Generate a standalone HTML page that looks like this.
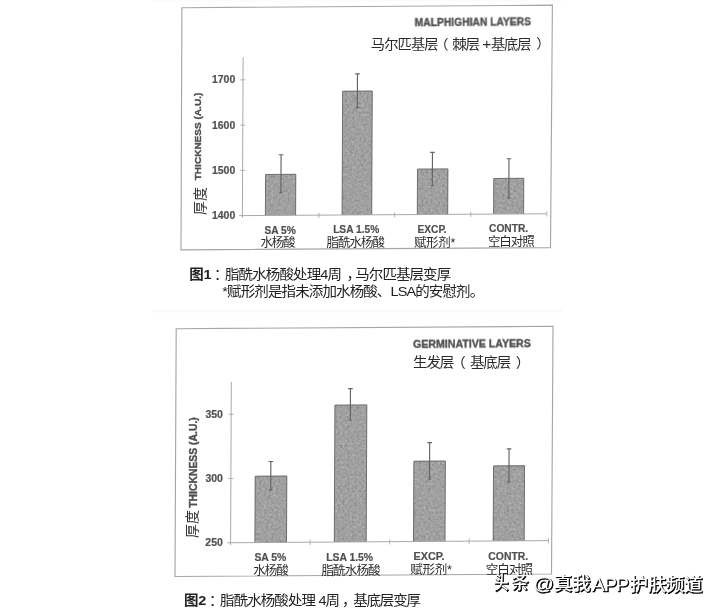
<!DOCTYPE html>
<html lang="zh"><head><meta charset="utf-8"><title>图1 图2</title>
<style>
html,body{margin:0;padding:0;background:#fff}
body{width:720px;height:610px;overflow:hidden;position:relative;font-family:"Liberation Sans",sans-serif}
svg{position:absolute;left:0;top:0;display:block}
</style></head><body>
<svg width="720" height="610" viewBox="0 0 720 610">
<defs>
<filter id="nz" x="0" y="0" width="100%" height="100%" color-interpolation-filters="sRGB"><feTurbulence type="fractalNoise" baseFrequency="0.42" numOctaves="2" seed="7" result="n"/><feColorMatrix in="n" type="matrix" values="0.34 0.33 0.33 0 0  0.34 0.33 0.33 0 0  0.34 0.33 0.33 0 0  0 0 0 0 1" result="g"/><feComposite in="SourceGraphic" in2="g" operator="arithmetic" k1="0" k2="1" k3="0.42" k4="-0.21" result="m"/><feComposite in="m" in2="SourceGraphic" operator="in"/></filter>
<filter id="soft" x="-2%" y="-2%" width="104%" height="104%"><feGaussianBlur stdDeviation="0.35"/></filter>
<filter id="soft2" x="-2%" y="-2%" width="104%" height="104%"><feGaussianBlur stdDeviation="0.3"/></filter>
<filter id="ws" x="-5%" y="-20%" width="110%" height="140%"><feGaussianBlur stdDeviation="0.45"/></filter>
</defs>
<rect width="720" height="610" fill="#fff"/>
<rect x="152" y="309.4" width="410" height="3" fill="#fafafa"/><rect x="152" y="0" width="410" height="1.6" fill="#fbfbfb"/>
<polygon points="181.90,7.70 552.40,5.20 550.50,247.70 181.00,249.80" fill="none" stroke="#a6a6a6" stroke-width="1.15"/><g filter="url(#soft2)"><path d="M265.40 215.46L265.59 174.49L295.79 174.31L295.60 215.28Z" fill="#a0a0a0" filter="url(#nz)"/><path d="M265.40 215.46L265.59 174.49L295.79 174.31L295.60 215.28" fill="none" stroke="#6e6e6e" stroke-width="1"/><path d="M342.10 215.00L342.66 91.19L372.26 91.01L371.70 214.82Z" fill="#a0a0a0" filter="url(#nz)"/><path d="M342.10 215.00L342.66 91.19L372.26 91.01L371.70 214.82" fill="none" stroke="#6e6e6e" stroke-width="1"/><path d="M417.30 214.55L417.51 169.09L447.91 168.91L447.70 214.37Z" fill="#a0a0a0" filter="url(#nz)"/><path d="M417.30 214.55L417.51 169.09L447.91 168.91L447.70 214.37" fill="none" stroke="#6e6e6e" stroke-width="1"/><path d="M493.60 214.09L493.77 178.49L523.77 178.31L523.60 213.91Z" fill="#a0a0a0" filter="url(#nz)"/><path d="M493.60 214.09L493.77 178.49L523.77 178.31L523.60 213.91" fill="none" stroke="#6e6e6e" stroke-width="1"/><path d="M243.11 57.20L242.39 217.80M239.20 215.62L547.00 213.77" fill="none" stroke="#a4a4a4" stroke-width="0.95"/><path d="M240.31 79.80L245.51 79.80M240.11 125.10L245.31 125.10M239.90 170.40L245.10 170.40M318.90 212.64L318.90 217.94M394.70 212.19L394.70 217.49M470.80 211.73L470.80 217.03M546.80 211.27L546.80 216.57" fill="none" stroke="#a4a4a4" stroke-width="0.8"/><path d="M281.09 154.70L280.91 192.50M278.79 154.70h4.6M279.41 192.50h3M357.48 73.90L357.32 107.60M355.18 73.90h4.6M355.82 107.60h3M432.47 152.30L432.33 185.60M430.17 152.30h4.6M430.83 185.60h3M508.99 158.70L508.81 198.10M506.69 158.70h4.6M507.31 198.10h3" fill="none" stroke="#636363" stroke-width="1.15"/></g><g font-family="Liberation Sans, sans-serif" font-weight="bold" filter="url(#soft)" stroke="#505050" stroke-width="0.2"><text x="212.07" y="83.35" font-size="10.4" fill="#505050">1700</text><text x="212.07" y="128.65" font-size="10.4" fill="#505050">1600</text><text x="212.07" y="174.15" font-size="10.4" fill="#505050">1500</text><text x="212.07" y="218.95" font-size="10.4" fill="#505050">1400</text><text font-size="10.3" fill="#505050" stroke-width="0.38" transform="translate(414.70 26.00) rotate(-0.45) scale(1 0.98)">MALPHIGHIAN LAYERS</text><text font-size="10.05" fill="#505050" stroke-width="0.38" transform="translate(201.10 180.29) rotate(-90) scale(1 0.98)">THICKNESS (A.U.)</text><text x="264.46" y="233.60" font-size="10.2" fill="#505050">SA 5%</text><text x="333.15" y="233.20" font-size="10.2" fill="#505050">LSA 1.5%</text><text x="417.45" y="232.80" font-size="10.2" fill="#505050">EXCP.</text><text x="489.04" y="232.20" font-size="10.2" fill="#505050">CONTR.</text></g><g filter="url(#soft)" font-family="'Liberation Sans','Noto Sans CJK SC',sans-serif"><text fill="#2c2c2c" font-size="14.3" textLength="67.8" transform="translate(370.78 49.20) scale(1 0.937)">马尔匹基层</text><text fill="#2c2c2c" font-size="14.3" transform="translate(434.26 48.90) scale(1 0.937)">（</text><text fill="#2c2c2c" font-size="14.6" textLength="28" transform="translate(452.18 48.70) scale(1 0.918)">棘层</text><text fill="#2c2c2c" font-size="15.5" transform="translate(482.31 48.90) scale(1 0.903)">+</text><text fill="#2c2c2c" font-size="14.3" textLength="40.7" transform="translate(490.89 48.50) scale(1 0.937)">基底层</text><text fill="#2c2c2c" font-size="14.3" transform="translate(536.24 48.30) scale(1 0.937)">）</text><text fill="#2c2c2c" font-size="14" textLength="28" transform="translate(204.70 214.40) rotate(-90) translate(-0.48 0) scale(1 0.957)">厚度</text><text fill="#2c2c2c" font-size="12.5" textLength="35.1" transform="translate(260.51 247.10) scale(1 0.992)">水杨酸</text><text fill="#2c2c2c" font-size="12.5" textLength="58.5" transform="translate(326.46 246.80) scale(1 0.992)">脂酰水杨酸</text><text fill="#2c2c2c" font-size="12.5" textLength="41.4" transform="translate(413.92 246.50) scale(1 0.992)">赋形剂*</text><text fill="#2c2c2c" font-size="12.5" textLength="46.8" transform="translate(487.95 246.20) scale(1 0.992)">空白对照</text><text fill="#222" font-weight="bold" font-size="14.5" textLength="22.3" transform="translate(189.16 279.20) scale(1 0.938)">图1</text><text fill="#202020" font-size="14.5" transform="translate(213.98 279.20) scale(1 0.938)">：</text><text fill="#202020" font-size="14.5" textLength="116.9" transform="translate(225.01 279.20) scale(1 0.938)">脂酰水杨酸处理4周</text><text fill="#202020" font-size="14.5" transform="translate(346.54 279.20) scale(1 0.938)">，</text><text fill="#202020" font-size="14.5" textLength="95.9" transform="translate(355.27 279.20) scale(1 0.938)">马尔匹基层变厚</text><text fill="#202020" font-size="14.5" textLength="261.8" transform="translate(222.36 296.40) scale(1 0.938)">*赋形剂是指未添加水杨酸、LSA的安慰剂。</text></g><polygon points="176.20,328.70 553.00,326.30 551.50,574.00 175.00,576.50" fill="none" stroke="#a6a6a6" stroke-width="1.15"/><g filter="url(#soft2)"><path d="M254.90 542.59L255.20 476.21L286.80 475.99L286.50 542.38Z" fill="#a0a0a0" filter="url(#nz)"/><path d="M254.90 542.59L255.20 476.21L286.80 475.99L286.50 542.38" fill="none" stroke="#6e6e6e" stroke-width="1"/><path d="M334.30 542.06L334.91 405.11L366.81 404.89L366.20 541.84Z" fill="#a0a0a0" filter="url(#nz)"/><path d="M334.30 542.06L334.91 405.11L366.81 404.89L366.20 541.84" fill="none" stroke="#6e6e6e" stroke-width="1"/><path d="M413.50 541.52L413.86 461.21L445.36 460.99L445.00 541.31Z" fill="#a0a0a0" filter="url(#nz)"/><path d="M413.50 541.52L413.86 461.21L445.36 460.99L445.00 541.31" fill="none" stroke="#6e6e6e" stroke-width="1"/><path d="M493.20 540.99L493.54 465.90L524.54 465.70L524.20 540.78Z" fill="#a0a0a0" filter="url(#nz)"/><path d="M493.20 540.99L493.54 465.90L524.54 465.70L524.20 540.78" fill="none" stroke="#6e6e6e" stroke-width="1"/><path d="M231.31 381.80L230.59 544.95M227.40 542.77L548.60 540.62" fill="none" stroke="#a4a4a4" stroke-width="0.95"/><path d="M228.47 414.30L233.67 414.30M228.18 478.50L233.38 478.50M310.10 539.72L310.10 545.02M389.70 539.18L389.70 544.48M469.20 538.65L469.20 543.95M548.50 538.12L548.50 543.42" fill="none" stroke="#a4a4a4" stroke-width="0.8"/><path d="M270.86 461.50L270.74 489.80M268.56 461.50h4.6M269.24 489.80h3M350.47 388.60L350.33 420.20M348.17 388.60h4.6M348.83 420.20h3M429.68 442.60L429.52 479.20M427.38 442.60h4.6M428.02 479.20h3M509.07 448.80L508.93 482.10M506.77 448.80h4.6M507.43 482.10h3" fill="none" stroke="#636363" stroke-width="1.15"/></g><g font-family="Liberation Sans, sans-serif" font-weight="bold" filter="url(#soft)" stroke="#505050" stroke-width="0.2"><text x="205.44" y="418.00" font-size="10.5" fill="#505050">350</text><text x="205.44" y="482.00" font-size="10.5" fill="#505050">300</text><text x="205.37" y="546.00" font-size="10.5" fill="#505050">250</text><text font-size="10.6" fill="#505050" stroke-width="0.38" transform="translate(413.11 347.60) rotate(-0.38) scale(1 0.97)">GERMINATIVE LAYERS</text><text font-size="10.4" fill="#505050" stroke-width="0.38" transform="translate(197.10 507.80) rotate(-90) scale(1 0.98)">THICKNESS (A.U.)</text><text x="254.40" y="561.00" font-size="10.4" fill="#505050">SA 5%</text><text x="326.14" y="560.60" font-size="10.4" fill="#505050">LSA 1.5%</text><text x="413.51" y="560.10" font-size="10.8" fill="#505050">EXCP.</text><text x="488.31" y="559.60" font-size="10.4" fill="#505050">CONTR.</text></g><g filter="url(#soft)" font-family="'Liberation Sans','Noto Sans CJK SC',sans-serif"><text fill="#2c2c2c" font-size="14.5" textLength="41.3" transform="translate(413.02 367.40) scale(1 0.938)">生发层</text><text fill="#2c2c2c" font-size="14.5" transform="translate(451.22 367.20) scale(1 0.938)">（</text><text fill="#2c2c2c" font-size="14.5" textLength="41.3" transform="translate(469.88 367.10) scale(1 0.938)">基底层</text><text fill="#2c2c2c" font-size="14.5" transform="translate(515.83 366.90) scale(1 0.938)">）</text><text fill="#2c2c2c" font-size="14" textLength="28" transform="translate(196.60 537.60) rotate(-90) translate(-0.48 0) scale(1 0.986)">厚度</text><text fill="#2c2c2c" font-size="12.6" textLength="35.5" transform="translate(253.31 575.30) scale(1 0.984)">水杨酸</text><text fill="#2c2c2c" font-size="12.6" textLength="59.2" transform="translate(321.46 574.90) scale(1 0.984)">脂酰水杨酸</text><text fill="#2c2c2c" font-size="12.6" textLength="41.6" transform="translate(410.22 574.40) scale(1 0.984)">赋形剂*</text><text fill="#2c2c2c" font-size="12.6" textLength="47.4" transform="translate(485.74 574.00) scale(1 0.984)">空白对照</text><text fill="#222" font-weight="bold" font-size="14.5" textLength="22.3" transform="translate(183.96 604.80) scale(1 0.938)">图2</text><text fill="#202020" font-size="14.5" transform="translate(208.98 604.80) scale(1 0.938)">：</text><text fill="#202020" font-size="14.5" textLength="95.9" transform="translate(220.11 604.80) scale(1 0.938)">脂酰水杨酸处理</text><text fill="#202020" font-size="14.5" transform="translate(318.61 604.80) scale(1 0.938)">4</text><text fill="#202020" font-size="14.5" transform="translate(325.52 604.80) scale(1 0.938)">周</text><text fill="#202020" font-size="14.5" transform="translate(342.04 604.80) scale(1 0.938)">，</text><text fill="#202020" font-size="14.5" textLength="67.7" transform="translate(353.28 604.80) scale(1 0.938)">基底层变厚</text></g><g filter="url(#ws)"><g stroke="#000" stroke-width="0.68" stroke-linejoin="round" fill="#000" font-family="'Liberation Sans','Noto Sans CJK SC',sans-serif" font-weight="500"><text font-size="14.6" transform="translate(494.80 590.30) scale(1 1.219)">头</text><text font-size="17.6" transform="translate(512.04 590.30) scale(1 1.011)">条</text><text font-size="20.3" transform="translate(534.36 590.60) scale(1 0.926)">@</text><text font-size="18.2" textLength="36.4" transform="translate(554.94 591.10) scale(1 0.978)">真我</text><text font-size="19.4" textLength="37.2" transform="translate(592.80 591.50) scale(1 0.918)">APP</text><text font-size="18.2" textLength="72.8" transform="translate(630.72 591.60) scale(1 0.978)">护肤频道</text></g></g><g fill="#fff" font-family="'Liberation Sans','Noto Sans CJK SC',sans-serif" font-weight="500"><text font-size="14.6" transform="translate(493.80 589.30) scale(1 1.219)">头</text><text font-size="17.6" transform="translate(511.04 589.30) scale(1 1.011)">条</text><text font-size="20.3" transform="translate(533.36 589.60) scale(1 0.926)">@</text><text font-size="18.2" textLength="36.4" transform="translate(553.94 590.10) scale(1 0.978)">真我</text><text font-size="19.4" textLength="37.2" transform="translate(591.80 590.50) scale(1 0.918)">APP</text><text font-size="18.2" textLength="72.8" transform="translate(629.72 590.60) scale(1 0.978)">护肤频道</text></g>
</svg>
</body></html>
